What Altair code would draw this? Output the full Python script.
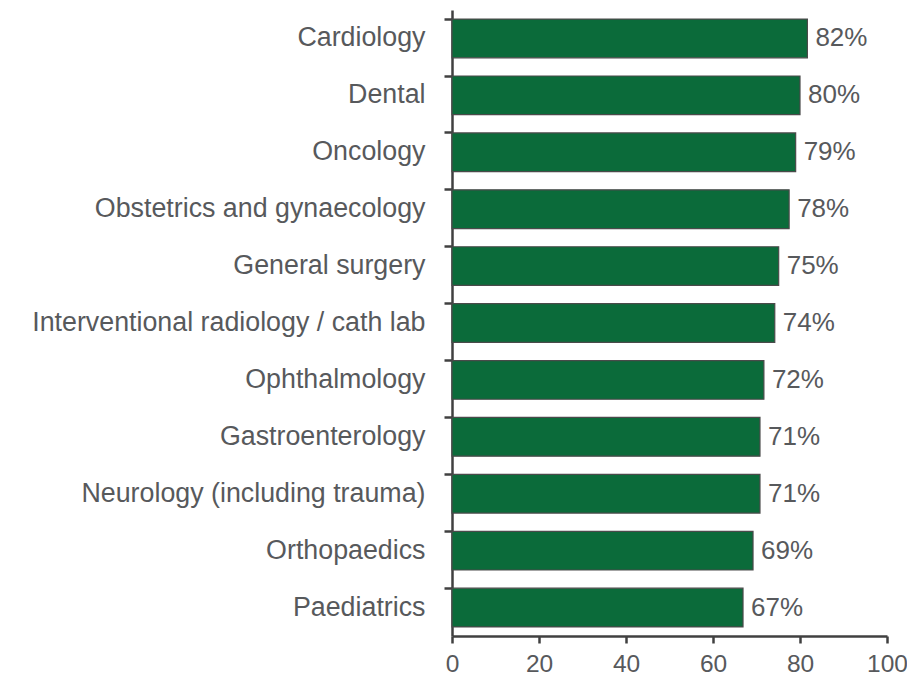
import altair as alt
import pandas as pd

categories = [
    "Cardiology", "Dental", "Oncology", "Obstetrics and gynaecology",
    "General surgery", "Interventional radiology / cath lab", "Ophthalmology",
    "Gastroenterology", "Neurology (including trauma)", "Orthopaedics", "Paediatrics",
]
values = [81.7, 80.0, 79.0, 77.5, 75.1, 74.2, 71.7, 70.8, 70.8, 69.2, 66.9]
labels = ["82%", "80%", "79%", "78%", "75%", "74%", "72%", "71%", "71%", "69%", "67%"]
x_ticks = [0, 20, 40, 60, 80, 100]

df = pd.DataFrame({"category": categories, "value": values, "label": labels})

FONT = "Liberation Sans"
TEXT = "#57595c"
AXIS = "#404040"
FS = 26.8

y_enc = alt.Y(
    "category:N", sort=categories, title=None,
    scale=alt.Scale(paddingInner=0.32, paddingOuter=0.16),
    axis=alt.Axis(
        labelFont=FONT, labelFontSize=FS, labelColor=TEXT, labelPadding=19,
        domainColor=AXIS, domainWidth=2.5, tickColor=AXIS, tickWidth=2.5,
        tickSize=8, bandPosition=0, labelLimit=600, grid=False,
    ),
)
x_enc = alt.X(
    "value:Q", title=None,
    scale=alt.Scale(domain=[0, 100], nice=False),
    axis=alt.Axis(
        values=x_ticks, labelFont=FONT, labelFontSize=24.5, labelColor=TEXT,
        labelPadding=9, domainColor=AXIS, domainWidth=2.5, tickColor=AXIS,
        tickWidth=2.5, tickSize=7, grid=False, labelFlush=False,
    ),
)

bars = alt.Chart(df).mark_bar(
    color="#0b6b3a", stroke="#4a4a4a", strokeWidth=1.2
).encode(x=x_enc, y=y_enc)

text = alt.Chart(df).mark_text(
    align="left", baseline="middle", dx=8, font=FONT, fontSize=26, color=TEXT
).encode(x="value:Q", y=alt.Y("category:N", sort=categories), text="label:N")

chart = (
    alt.layer(bars, text)
    .properties(
        width=435, height=626,
        autosize=alt.AutoSizeParams(type="none"),
        padding={"left": 444, "top": 2, "right": 20, "bottom": 40},
        background="white",
    )
    .configure_view(strokeWidth=0, stroke=None)
    .configure_axis(grid=False)
)

chart.save("out.html", embed_options={"renderer": "svg", "actions": False})
